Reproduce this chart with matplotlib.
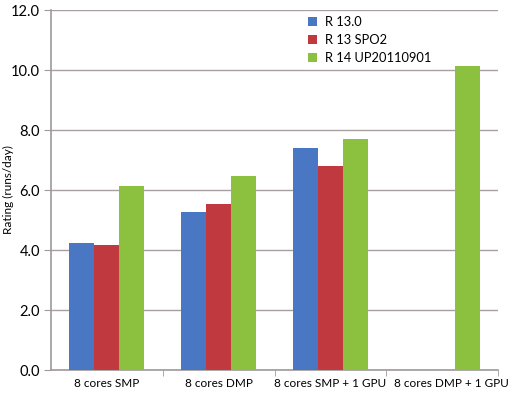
import matplotlib
matplotlib.use('Agg')
import matplotlib.pyplot as plt
import matplotlib.transforms as mtransforms
import numpy as np

plt.rcParams['font.family'] = ['Lato', 'DejaVu Sans']

# datos
categorias = ['8 cores SMP', '8 cores DMP', '8 cores SMP + 1 GPU', '8 cores DMP + 1 GPU']
series = ['R 13.0', 'R 13 SPO2', 'R 14 UP20110901']
r13 = [4.22, 5.27, 7.40, np.nan]
r13_sp02 = [4.18, 5.52, 6.80, np.nan]
r14 = [6.12, 6.47, 7.70, 10.13]
colores = ['#4a77c4', '#c0393f', '#8cc140']

fig = plt.figure(figsize=(5.14, 3.94), dpi=100)
ax = fig.add_axes([51 / 514, 1 - 370 / 394, 447 / 514, 360 / 394])

x = np.arange(len(categorias))
ancho = 0.224
for i, (vals, nombre) in enumerate(zip([r13, r13_sp02, r14], series)):
    ax.bar(x + (i - 1) * ancho, vals, ancho, color=colores[i], label=nombre, zorder=3)

ax.set_xlim(-0.5, 3.5)
ax.set_ylim(0, 12)
ax.set_yticks(np.arange(0, 12.1, 2))
ax.set_yticklabels([f'{v:.1f}' for v in np.arange(0, 12.1, 2)], fontsize=10.5)
ax.set_xticks(x)
ax.set_xticklabels(categorias, fontsize=8.5)
ax.set_xticks([0.5, 1.5, 2.5, 3.5], minor=True)
ax.tick_params(axis='x', which='major', length=0, pad=6)
ax.tick_params(axis='x', which='minor', length=4, color='#a09a9a')
ax.tick_params(axis='y', length=5, color='#a09a9a', pad=3)

# la ultima etiqueta va corrida a la derecha como en Excel
ultima = ax.get_xticklabels()[-1]
ultima.set_transform(ultima.get_transform() +
                     mtransforms.ScaledTranslation(0.09, 0, fig.dpi_scale_trans))

ax.grid(axis='y', color='#a8a0a0', linewidth=1, zorder=0)
for s in ['top', 'right']:
    ax.spines[s].set_visible(False)
ax.spines['left'].set_color('#a09a9a')
ax.spines['bottom'].set_color('#a09a9a')
ax.spines['left'].set_linewidth(1.2)
ax.spines['bottom'].set_linewidth(1.2)

ax.set_ylabel('Rating (runs/day)', fontsize=8.5)
ax.yaxis.set_label_coords(-0.082, 0.5)

leg = ax.legend(loc='upper left', bbox_to_anchor=(298 / 514, 1 - 6 / 394),
                bbox_transform=fig.transFigure, frameon=True, fancybox=False,
                edgecolor='white', facecolor='white', framealpha=1,
                fontsize=9.3, handlelength=0.7, handleheight=0.7,
                handletextpad=0.6, labelspacing=0.45, borderpad=0.3)

fig.savefig('out.png', dpi=100)
